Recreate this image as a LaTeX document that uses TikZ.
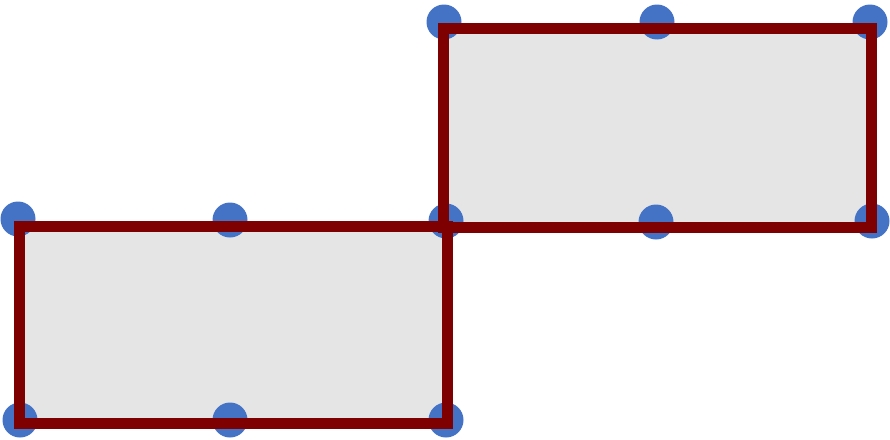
\documentclass[tikz,border=0pt]{standalone}
\definecolor{boxfill}{HTML}{E5E5E5}
\definecolor{boxline}{HTML}{7F0000}
\definecolor{dotblue}{HTML}{4472C4}
\tikzset{
  boxbody/.style={fill=boxfill},
  boxedge/.style={draw=boxline, line width=11pt, line join=miter},
  bluedot/.style={fill=dotblue}
}
\begin{document}
\begin{tikzpicture}[x=1pt,y=-1pt]
\useasboundingbox (0,0) rectangle (890,439);
% fills
\fill[boxbody] (19.5,226) rectangle (447,423.5);
\fill[boxbody] (443.5,28.5) rectangle (871.5,227);
% dots
\foreach \p in {(18,219),(230,220),(446,221),(20,420),(230,420),(446,420),
                (444,22),(657,22),(870,22),(656,222),(872,221)}
  \fill[bluedot] \p circle (17.5);
% borders
\draw[boxedge] (19.5,226) rectangle (447,423.5);
\draw[boxedge] (443.5,28.5) rectangle (871.5,227);
\end{tikzpicture}
\end{document}
